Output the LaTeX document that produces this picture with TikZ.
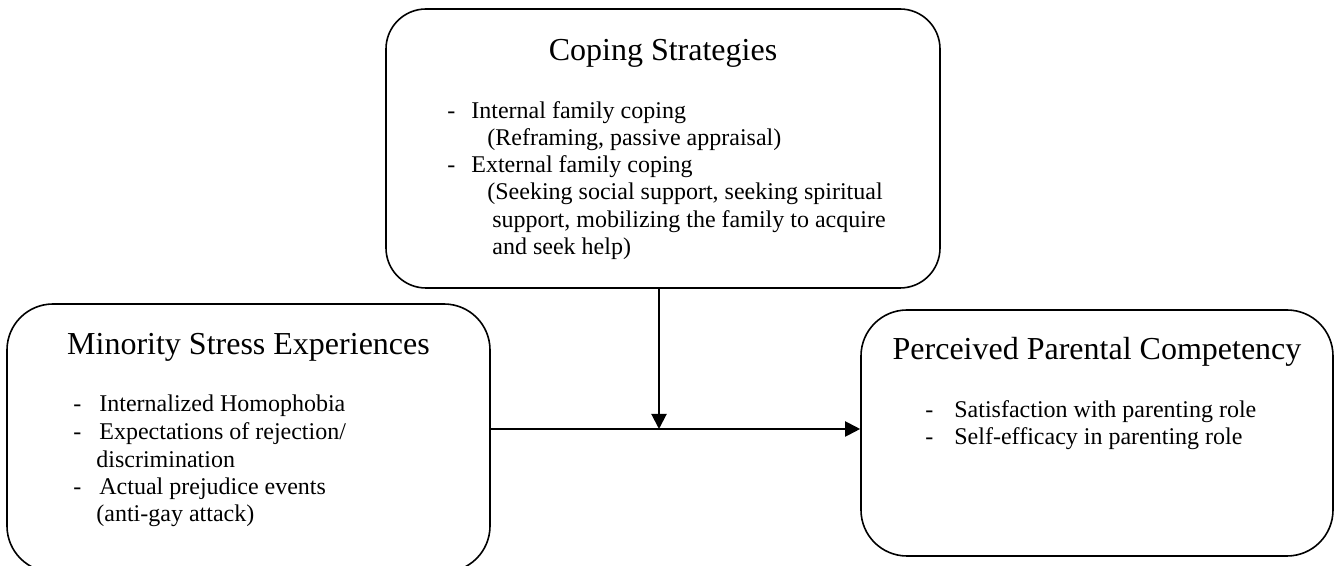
\documentclass[tikz,border=0pt]{standalone}
\usepackage{fontspec}
\setmainfont{Liberation Serif}
\usetikzlibrary{arrows.meta}
\newcommand{\dashpt}[1]{\makebox[#1][l]{-}}

\begin{document}
\begin{tikzpicture}[x=0.5pt, y=-0.5pt,
    box/.style={draw, line width=0.8pt, rounded corners=#1, inner sep=0pt},
    box/.default=22pt,
    title/.style={anchor=base, inner sep=0pt, font=\fontsize{16}{19}\selectfont},
    line/.style={anchor=base west, inner sep=0pt, font=\fontsize{12}{14}\selectfont},
    arrow/.style={-{Triangle[length=7.5pt,width=7.5pt]}, line width=1pt}]
    \useasboundingbox (0,0) rectangle (1335,566);
    \clip (0,0) rectangle (1335,566);

    % boxes
    \node[box=20pt, minimum width=277pt, minimum height=139.5pt] (coping) at (663,148.5) {};
    \node[box=23pt, minimum width=241.5pt, minimum height=134pt] (stress) at (248.5,438) {};
    \node[box=23pt, minimum width=236pt, minimum height=123pt] (competency) at (1097,433) {};

    % coping strategies
    \node[title] (copingtitle) at (663,60.5) {Coping Strategies};
    \node[line] (c1) at (447,118.6) {\dashpt{12pt}Internal family coping};
    \node[line] (c2) at (487,145.5) {(Reframing, passive appraisal)};
    \node[line] (c3) at (447,173) {\dashpt{12pt}External family coping};
    \node[line] (c4) at (487,200) {(Seeking social support, seeking spiritual};
    \node[line] (c5) at (492,228) {support, mobilizing the family to acquire};
    \node[line] (c6) at (492,255) {and seek help)};

    % minority stress
    \node[title] (stresstitle) at (248.5,355) {Minority Stress Experiences};
    \node[line] (s1) at (73,412) {\dashpt{13pt}Internalized Homophobia};
    \node[line] (s2) at (73,440) {\dashpt{13pt}Expectations of rejection/};
    \node[line] (s3) at (96,468) {discrimination};
    \node[line] (s4) at (73,495) {\dashpt{13pt}Actual prejudice events};
    \node[line] (s5) at (96,522) {(anti-gay attack)};

    % parental competency
    \node[title] (competencytitle) at (1097,360) {Perceived Parental Competency};
    \node[line] (p1) at (925,418) {\dashpt{14.5pt}Satisfaction with parenting role};
    \node[line] (p2) at (925,445) {\dashpt{14.5pt}Self-efficacy in parenting role};

    % arrows
    \coordinate (join) at (659,429);
    \draw[arrow] (coping.south -| join) -- (join);
    \draw[arrow] (stress.east |- join) -- (competency.west |- join);
\end{tikzpicture}
\end{document}
